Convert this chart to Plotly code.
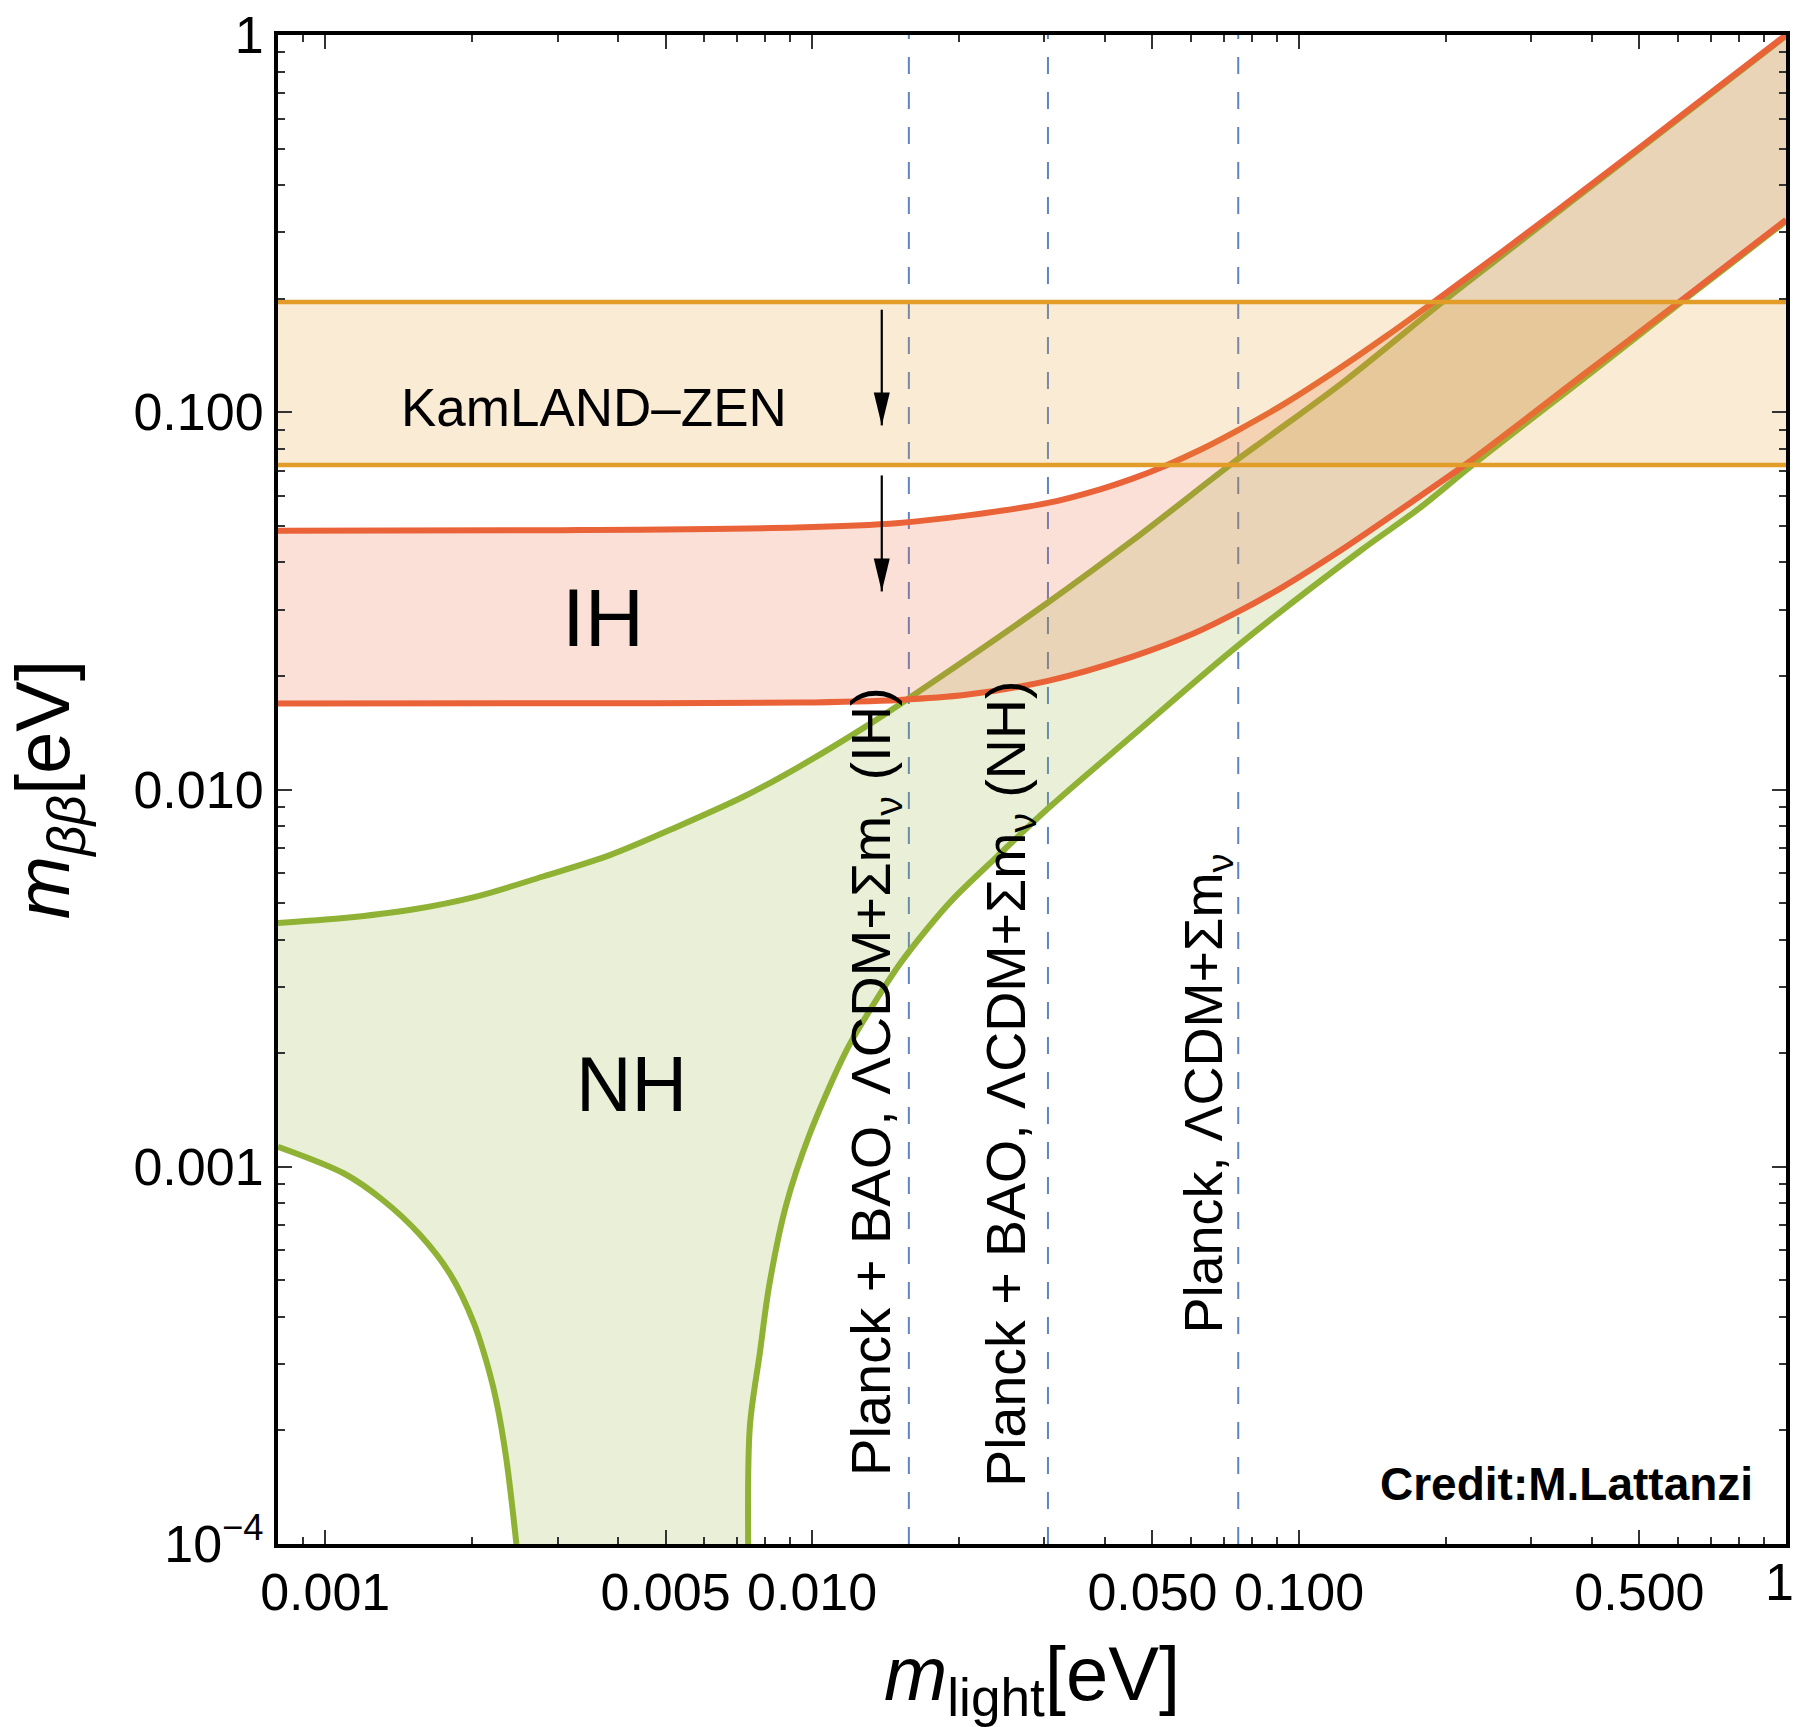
import numpy as np
import plotly.graph_objects as go

# ---- axis extent (eV) ----
X_MIN, X_MAX = 0.0008, 1.0
Y_MIN, Y_MAX = 1e-4, 1.0

# ---- normal hierarchy band ----
nh_upper_x = [0.0008, 0.001092, 0.0015, 0.002052, 0.0028, 0.003855, 0.0053, 0.00724,
              0.0093, 0.0129, 0.0158, 0.0305, 0.0458, 0.073, 0.0869, 0.1248, 0.197, 0.2618, 0.42, 1.0]
nh_upper_y = [0.00443, 0.004565, 0.0048, 0.00521, 0.00588, 0.00671, 0.00798, 0.00958,
              0.0114, 0.0147, 0.01746, 0.0313, 0.0460, 0.0733, 0.0863, 0.1217, 0.196, 0.261, 0.419, 0.995]

nh_lower_left_x = [0.0008, 0.001091, 0.001307, 0.001567, 0.001811, 0.00202, 0.00217,
                   0.00225, 0.002355, 0.00247]
nh_lower_left_y = [0.00113, 0.000961, 0.00082, 0.000659, 0.000516, 0.000385, 0.000288,
                   0.000237, 0.000168, 0.0001]

nh_lower_right_x = [0.00739, 0.00745, 0.00781, 0.00816, 0.00883, 0.00986, 0.01173, 0.0129,
                    0.0151, 0.0173, 0.0194, 0.024, 0.0305, 0.0455, 0.075, 0.1345, 0.1765,
                    0.2272, 0.4, 0.604, 1.0]
nh_lower_right_y = [0.0001, 0.000205, 0.000321, 0.000483, 0.000786, 0.00121, 0.00202, 0.00250,
                    0.00343, 0.0043, 0.0051, 0.00665, 0.0089, 0.0139, 0.0241, 0.0432, 0.0556,
                    0.0725, 0.128, 0.194, 0.321]

# ---- inverted hierarchy band ----
ih_upper_x = [0.0008, 0.003, 0.0093, 0.0151, 0.0207, 0.0305, 0.0389, 0.0455, 0.0533, 0.0624,
              0.075, 0.0925, 0.119, 0.1509, 0.188, 0.2618, 0.42, 0.624, 1.0]
ih_upper_y = [0.0485, 0.0487, 0.0495, 0.0509, 0.0532, 0.0575, 0.0624, 0.0667, 0.0723, 0.0793,
              0.0897, 0.1046, 0.1288, 0.159, 0.195, 0.267, 0.423, 0.626, 1.0]

ih_lower_x = [0.0008, 0.003, 0.0093, 0.0151, 0.0207, 0.0305, 0.0455, 0.0607, 0.075, 0.0925,
              0.1216, 0.1765, 0.2203, 0.4, 0.604, 1.0]
ih_lower_y = [0.0169, 0.01692, 0.0170, 0.01728, 0.01782, 0.0194, 0.0225, 0.0259, 0.0296, 0.0344,
              0.0430, 0.0597, 0.0729, 0.131, 0.196, 0.3236]

# ---- KamLAND-Zen band ----
kam_low, kam_high = 0.0725, 0.196

# ---- cosmological bounds on the lightest mass ----
cosmo_bounds = [0.0158, 0.0305, 0.075]
cosmo_labels = ["Planck + BAO, ΛCDM+Σm<sub>ν</sub> (IH)",
                "Planck + BAO, ΛCDM+Σm<sub>ν</sub> (NH)",
                "Planck, ΛCDM+Σm<sub>ν</sub>"]
cosmo_label_x = [0.01344, 0.0254, 0.0646]
cosmo_label_y = [0.001685, 0.001662, 0.00156]
cosmo_label_size = [56, 55.5, 54]

# ---- downward arrows (x, tail y, tip y) ----
arrow_x = 0.0139
arrow_tails = [0.187, 0.068]
arrow_tips = [0.0923, 0.0335]

# ---- ticks ----
x_major = [0.001, 0.005, 0.01, 0.05, 0.1, 0.5, 1.0]
x_major_text = ["0.001", "0.005", "0.010", "0.050", "0.100", "0.500", ""]
x_end_label = "1"   # label of the last tick, kept inside the page
x_minor = [0.0009, 0.002, 0.003, 0.004, 0.006, 0.007, 0.008, 0.009,
           0.02, 0.03, 0.04, 0.06, 0.07, 0.08, 0.09,
           0.2, 0.3, 0.4, 0.6, 0.7, 0.8, 0.9]
y_major = [1e-4, 1e-3, 1e-2, 0.1, 1.0]
y_major_text = ["10<sup>−4</sup>", "0.001", "0.010", "0.100", "1"]
y_minor = [m * d for d in (1e-4, 1e-3, 1e-2, 0.1) for m in range(2, 10)]

GREEN = "rgb(143,178,53)"
RED = "rgb(233,98,56)"
ORANGE = "rgb(226,157,40)"
GREEN_FILL = "rgba(143,178,53,0.2)"
RED_FILL = "rgba(233,98,56,0.2)"
ORANGE_FILL = "rgba(226,157,40,0.2)"
FONT = "Liberation Sans, Arial, Helvetica, sans-serif"


def curve(xs, ys, color, width):
    return go.Scatter(x=xs, y=ys, mode="lines", hoverinfo="skip",
                      line=dict(color=color, width=width, shape="spline", smoothing=0.9))


fig = go.Figure()

# NH region (lower edge runs along the bottom of the frame where it vanishes)
nh_poly_x = nh_upper_x + nh_lower_right_x[::-1] + nh_lower_left_x[::-1]
nh_poly_y = nh_upper_y + nh_lower_right_y[::-1] + nh_lower_left_y[::-1]
fig.add_trace(go.Scatter(x=nh_poly_x, y=nh_poly_y, fill="toself", fillcolor=GREEN_FILL,
                         mode="none", hoverinfo="skip"))
for xs, ys in [(nh_upper_x, nh_upper_y), (nh_lower_left_x, nh_lower_left_y),
               (nh_lower_right_x, nh_lower_right_y)]:
    fig.add_trace(curve(xs, ys, GREEN, 6))

# IH region
fig.add_trace(go.Scatter(x=ih_upper_x + ih_lower_x[::-1], y=ih_upper_y + ih_lower_y[::-1],
                         fill="toself", fillcolor=RED_FILL, mode="none", hoverinfo="skip"))
for xs, ys in [(ih_upper_x, ih_upper_y), (ih_lower_x, ih_lower_y)]:
    fig.add_trace(curve(xs, ys, RED, 6))

# KamLAND-Zen band
fig.add_trace(go.Scatter(x=[X_MIN, X_MAX, X_MAX, X_MIN], y=[kam_low, kam_low, kam_high, kam_high],
                         fill="toself", fillcolor=ORANGE_FILL, mode="none", hoverinfo="skip"))
for yv in (kam_low, kam_high):
    fig.add_trace(go.Scatter(x=[X_MIN, X_MAX], y=[yv, yv], mode="lines",
                             line=dict(color=ORANGE, width=4.5), hoverinfo="skip"))

# dashed cosmological bounds, under the shaded bands
for xv in cosmo_bounds:
    fig.add_shape(type="line", xref="x", yref="paper", x0=xv, x1=xv, y0=0, y1=1,
                  line=dict(color="rgb(95,132,196)", width=2, dash="17px,18px"), layer="below")

# arrows
for yt, yh in zip(arrow_tails, arrow_tips):
    fig.add_shape(type="line", xref="x", yref="y", x0=arrow_x, x1=arrow_x, y0=yt, y1=yh,
                  line=dict(color="black", width=2.2))
    fig.add_shape(type="path", xref="x", yref="y", xsizemode="pixel", ysizemode="pixel",
                  xanchor=arrow_x, yanchor=yh, path="M0,0 L-8,33 L8,33 Z",
                  fillcolor="black", line=dict(width=0))

annotations = []
for txt, lx, ly, fs in zip(cosmo_labels, cosmo_label_x, cosmo_label_y, cosmo_label_size):
    annotations.append(dict(x=np.log10(lx), y=np.log10(ly), xref="x", yref="y", text=txt,
                            textangle=-90, showarrow=False, xanchor="center", yanchor="middle",
                            font=dict(family=FONT, size=fs, color="black")))
annotations += [
    dict(x=np.log10(0.00357), y=np.log10(0.103), xref="x", yref="y", text="KamLAND–ZEN",
         showarrow=False, font=dict(family=FONT, size=53, color="black")),
    dict(x=np.log10(0.00372), y=np.log10(0.02863), xref="x", yref="y", text="IH",
         showarrow=False, font=dict(family=FONT, size=82, color="black")),
    dict(x=np.log10(0.00425), y=np.log10(0.00166), xref="x", yref="y", text="NH",
         showarrow=False, font=dict(family=FONT, size=77, color="black")),
    dict(x=np.log10(0.865), y=np.log10(0.000144), xref="x", yref="y",
         text="<b>Credit:M.Lattanzi</b>", showarrow=False, xanchor="right",
         font=dict(family=FONT, size=46, color="black")),
    # label of the x = 1 tick, right-aligned to the page edge
    dict(x=np.log10(X_MAX), y=0, xref="x", yref="paper", text=x_end_label, showarrow=False,
         xanchor="right", yanchor="top", xshift=10, yshift=-7,
         font=dict(family=FONT, size=52, color="black")),
]

axis_common = dict(
    type="log", showgrid=False, zeroline=False, showline=True, linecolor="black", linewidth=4,
    mirror="allticks", ticks="inside", ticklen=14, tickwidth=1.6, tickcolor="#333",
    tickmode="array", tickfont=dict(family=FONT, size=52, color="black"),
    automargin=False,
)

fig.update_layout(
    width=1796, height=1727,
    margin=dict(l=278, r=10, t=35, b=183, autoexpand=False),
    paper_bgcolor="white", plot_bgcolor="white",
    showlegend=False,
    annotations=annotations,
    xaxis=dict(axis_common, range=[np.log10(X_MIN), np.log10(X_MAX)],
               tickvals=x_major, ticktext=x_major_text,
               minor=dict(tickvals=x_minor, ticks="inside", ticklen=7, tickwidth=1.6, tickcolor="#333"),
               title=dict(text="<i>m</i><sub>light</sub>[eV]",
                          font=dict(family=FONT, size=76, color="black"), standoff=30)),
    yaxis=dict(axis_common, range=[np.log10(Y_MIN), np.log10(Y_MAX)],
               tickvals=y_major, ticktext=y_major_text,
               minor=dict(tickvals=y_minor, ticks="inside", ticklen=7, tickwidth=1.6, tickcolor="#333"),
               title=dict(text="<i>m</i><sub><i>ββ</i></sub>[eV]",
                          font=dict(family=FONT, size=76, color="black"), standoff=40)),
)

fig.write_html("out.html")
